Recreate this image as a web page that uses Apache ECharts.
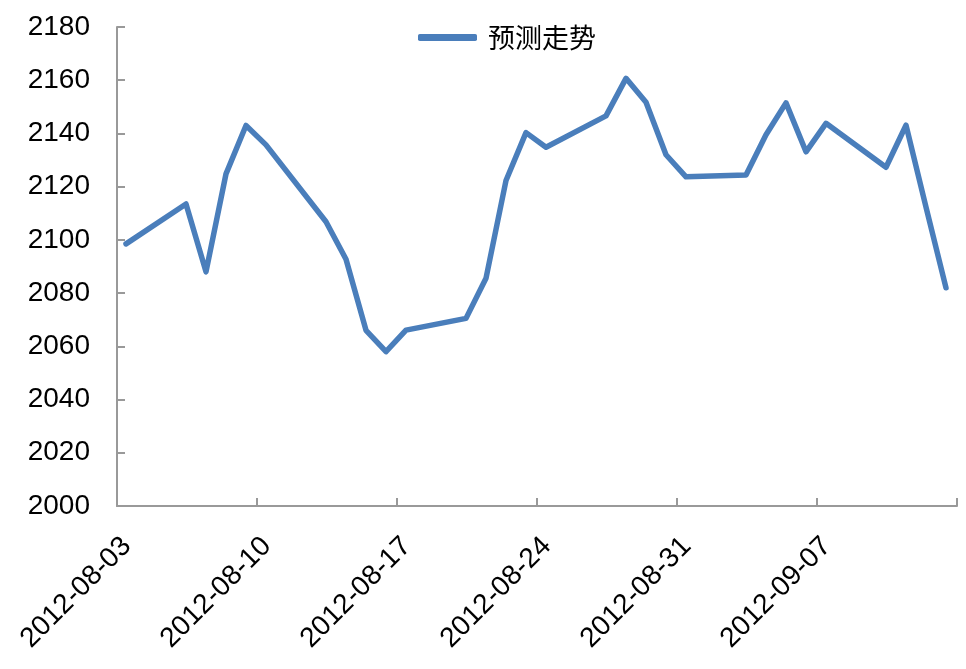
<!DOCTYPE html>
<html>
<head>
<meta charset="utf-8">
<script src="https://cdn.jsdelivr.net/npm/echarts@6/dist/echarts.min.js"></script>
<style>
html, body { margin: 0; padding: 0; background: #fff; }
#chart1 { width: 966px; height: 669px; }
</style>
</head>
<body>
<div id="chart1"></div>
<script>
var dates = ['2012-08-03', '2012-08-06', '2012-08-07', '2012-08-08', '2012-08-09', '2012-08-10',
	'2012-08-13', '2012-08-14', '2012-08-15', '2012-08-16', '2012-08-17',
	'2012-08-20', '2012-08-21', '2012-08-22', '2012-08-23', '2012-08-24',
	'2012-08-27', '2012-08-28', '2012-08-29', '2012-08-30', '2012-08-31',
	'2012-09-03', '2012-09-04', '2012-09-05', '2012-09-06', '2012-09-07',
	'2012-09-10', '2012-09-11', '2012-09-12', '2012-09-13'];
var values = [2098.5, 2113.5, 2088, 2124.8, 2143, 2135.7,
	2106.8, 2092.7, 2066, 2058, 2066.1,
	2070.5, 2085.6, 2122.3, 2140.3, 2134.8,
	2146.6, 2160.7, 2151.7, 2132, 2123.7,
	2124.4, 2139.5, 2151.5, 2133.1, 2143.8,
	2127.3, 2143.1, 2112.3, 2082];
var tickLabels = ['2012-08-03', '2012-08-10', '2012-08-17', '2012-08-24', '2012-08-31', '2012-09-07', ''];
var seriesName = '预测走势';

var startDay = Date.parse(dates[0]);
var points = [];
for(var i = 0; i < dates.length; i++) {
	var d = (Date.parse(dates[i]) - startDay) / 86400000;
	points.push([d + 0.45, values[i]]);
}

var myChart1 = echarts.init(document.getElementById('chart1'));
var option1 = {
	animation: false,
	textStyle: {
		fontFamily: 'Liberation Sans, Arial, sans-serif'
	},
	legend: {
		data: [seriesName],
		left: 413,
		top: 19,
		icon: 'roundRect',
		itemWidth: 59,
		itemHeight: 7,
		textStyle: {
			color: '#000',
			fontSize: 27,
			padding: [0, 0, 0, 6],
			fontFamily: 'Noto Sans CJK SC'
		}
	},
	grid: {
		left: 117,
		right: 9,
		top: 27,
		bottom: 163,
		containLabel: false
	},
	xAxis: {
		type: 'value',
		min: 0,
		max: 42,
		interval: 7,
		splitLine: { show: false },
		axisLine: {
			lineStyle: { color: '#999', width: 2 }
		},
		axisTick: {
			inside: true,
			length: 8,
			lineStyle: { color: '#999', width: 2 }
		},
		axisLabel: {
			rotate: 45,
			margin: 26,
			verticalAlign: 'top',
			color: '#000',
			fontSize: 28,
			showMaxLabel: true,
			formatter: function(v) {
				return tickLabels[Math.round(v / 7)] || '';
			}
		}
	},
	yAxis: {
		type: 'value',
		min: 2000,
		max: 2180,
		interval: 20,
		splitLine: { show: false },
		axisLine: {
			show: true,
			lineStyle: { color: '#999', width: 2 }
		},
		axisTick: {
			show: true,
			inside: true,
			length: 8,
			lineStyle: { color: '#999', width: 2 }
		},
		axisLabel: {
			margin: 27,
			color: '#000',
			fontSize: 28,
			formatter: function(v) {
				return String(v);
			}
		}
	},
	series: [{
		name: seriesName,
		type: 'line',
		data: points,
		showSymbol: false,
		symbol: 'none',
		itemStyle: { color: '#4a7ebb' },
		lineStyle: {
			color: '#4a7ebb',
			width: 5.5,
			cap: 'round',
			join: 'round'
		}
	}]
};
myChart1.setOption(option1);
</script>
</body>
</html>
